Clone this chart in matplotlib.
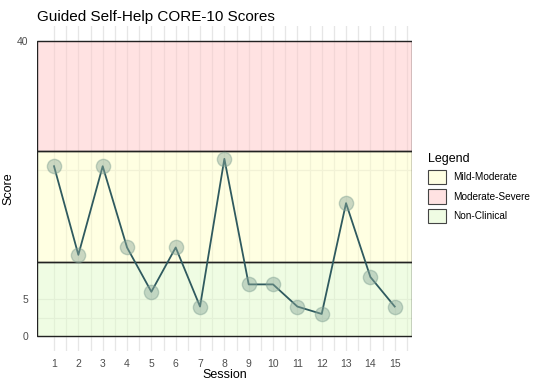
import numpy as np
import matplotlib.pyplot as plt
import matplotlib as mpl
from matplotlib.patches import Patch

mpl.rc('font', **{'family': 'sans-serif', 'sans-serif': ['Liberation Sans', 'DejaVu Sans']})

# data
sessions = [1, 2, 3, 4, 5, 6, 7, 8, 9, 10, 11, 12, 13, 14, 15]
scores = [23, 11, 23, 12, 6, 12, 4, 24, 7, 7, 4, 3, 18, 8, 4]

# clinical bands (label, lower, upper, colour)
band_labels = ['Non-Clinical', 'Mild-Moderate', 'Moderate-Severe']
band_low = [0, 10, 25]
band_high = [10, 25, 40]
band_colors = ['#e1fbc9', '#ffffc7', '#ffc7c7']

y_ticks = [0, 5, 40]

fig = plt.figure(figsize=(5.4, 3.86), dpi=100)
ax = fig.add_axes([0.0685, 0.091, 0.694, 0.842])

xlo, xhi = 0.3, 15.7
ax.set_xlim(xlo, xhi)
ax.set_ylim(-2, 42)

# ggplot-ish minimal grid
for xv in np.arange(1, 15.51, 0.5):
    ax.axvline(xv, color='#e6e6e6', lw=0.9, zorder=0)
for yv in [0, 2.5, 5, 22.5, 40]:
    ax.axhline(yv, color='#e6e6e6', lw=0.9, zorder=0)

for lab, lo, hi, col in zip(band_labels, band_low, band_high, band_colors):
    ax.fill_between([xlo, xhi], lo, hi, facecolor=col, alpha=0.5,
                    lw=0, zorder=1)
    ax.add_patch(plt.Rectangle((xlo, lo), xhi - xlo, hi - lo, fill=False,
                               edgecolor='#222222', lw=1.0, zorder=1.5))

ax.plot(sessions, scores, color='#2f5a5f', lw=1.3, zorder=3)
ax.scatter(sessions, scores, s=105, color='#8aa89a', alpha=0.45,
           edgecolor='#7f9f92', zorder=4)

ax.set_xticks(sessions)
ax.set_yticks(y_ticks)
ax.tick_params(length=0, labelsize=7.5, colors='#4d4d4d', pad=6)
for s in ax.spines.values():
    s.set_visible(False)

ax.set_xlabel('Session', fontsize=9, labelpad=0, color='black')
ax.set_ylabel('Score', fontsize=9, labelpad=2, color='black')
fig.text(0.068, 0.955, 'Guided Self-Help CORE-10 Scores', fontsize=11,
         ha='left', va='center')

# legend
order = [1, 2, 0]
handles = [Patch(facecolor=mpl.colors.to_rgba(band_colors[i], 0.5),
                 edgecolor='#444444', lw=0.8)
           for i in order]
leg = fig.legend(handles, [band_labels[i] for i in order], title='Legend',
                 loc='upper left', bbox_to_anchor=(0.785, 0.615),
                 frameon=False, fontsize=7.2, title_fontsize=9,
                 handlelength=1.85, handleheight=1.85, handletextpad=0.7,
                 labelspacing=0.5, borderaxespad=0)
leg._legend_box.align = 'left'

fig.savefig('out.png', dpi=100)
